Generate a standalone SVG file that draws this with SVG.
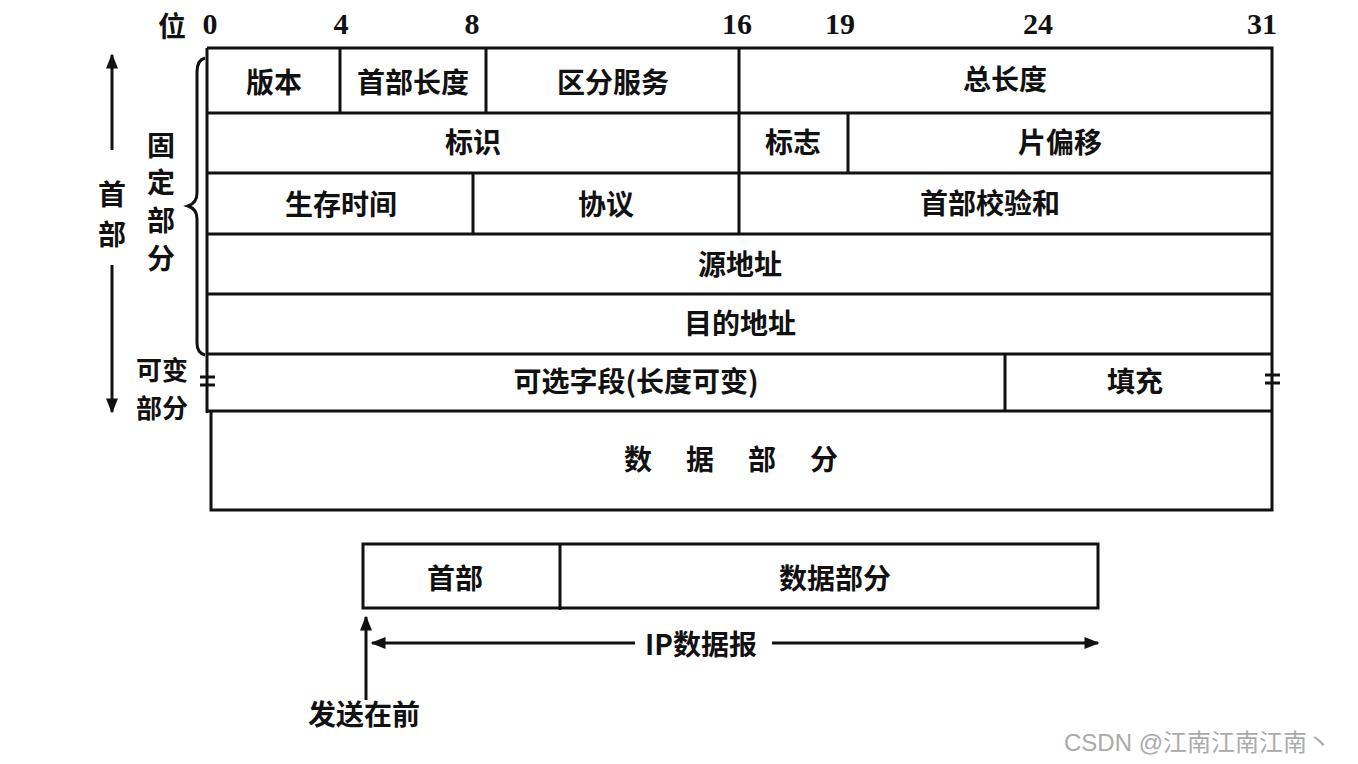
<svg xmlns="http://www.w3.org/2000/svg" width="1358" height="764" viewBox="0 0 1358 764">
<style>
.ln{stroke:#111;stroke-width:3;fill:none}
.t{font-family:"Noto Sans CJK SC","Noto Sans",sans-serif;font-weight:bold;font-size:28px;fill:#111;text-anchor:middle}
.s{font-size:26px}
.n{font-family:"Liberation Serif",serif;font-weight:bold;font-size:30px;fill:#111;text-anchor:middle}
.wm{font-family:"Liberation Sans","Noto Sans CJK SC",sans-serif;font-size:24px;fill:#aaa}
</style>
<defs>
<marker id="ah" viewBox="0 0 10 10" refX="9" refY="5" markerWidth="6" markerHeight="5" orient="auto" markerUnits="strokeWidth">
<path d="M0,1 L10,5 L0,9 Z" fill="#111"/>
</marker>
</defs>
<rect width="1358" height="764" fill="#fff"/>
<g id="bits">
<text class="t" x="172" y="37">位</text>
<text class="n" x="210" y="34">0</text>
<text class="n" x="341" y="34">4</text>
<text class="n" x="472" y="34">8</text>
<text class="n" x="737" y="34">16</text>
<text class="n" x="840" y="34">19</text>
<text class="n" x="1038" y="34">24</text>
<text class="n" x="1262" y="34">31</text>
</g>
<g id="header">
<path class="ln" d="M207,48 H1272 V411 M207,48 V413 M207,113 H1272 M207,173 H1272 M207,234 H1272 M207,294 H1272 M207,354 H1272 M207,411 H1272 M340,48 V113 M486,48 V113 M739,48 V234 M848,113 V173 M473,173 V234 M1005,354 V411"/>
<text class="t" x="274" y="93">版本</text>
<text class="t" x="413" y="93">首部长度</text>
<text class="t" x="613" y="93">区分服务</text>
<text class="t" x="1005" y="90">总长度</text>
<text class="t" x="473" y="153">标识</text>
<text class="t" x="793" y="153">标志</text>
<text class="t" x="1060" y="153">片偏移</text>
<text class="t" x="341" y="215">生存时间</text>
<text class="t" x="606" y="215">协议</text>
<text class="t" x="990" y="214">首部校验和</text>
<text class="t" x="740" y="275">源地址</text>
<text class="t" x="740" y="334">目的地址</text>
<text class="t" x="636" y="392">可选字段(长度可变)</text>
<text class="t" x="1135" y="392">填充</text>
</g>
<g id="data">
<path class="ln" d="M211,411 V510 H1272 V411"/>
<text class="t" x="748" y="470" style="letter-spacing:34px">数据部分</text>
</g>
<g id="labels">
<text class="t" x="112" y="205">首</text>
<text class="t" x="112" y="245">部</text>
<text class="t" x="161" y="156">固</text>
<text class="t" x="161" y="193">定</text>
<text class="t" x="161" y="231">部</text>
<text class="t" x="161" y="269">分</text>
<text class="t s" x="162" y="380">可变</text>
<text class="t s" x="162" y="418">部分</text>
<path class="ln" d="M205,58 Q197,60 197,72 V193 Q197,203 188,206 Q197,209 197,219 V343 Q197,353 205,355" stroke-width="2.5"/>
<path class="ln" d="M200,377 H215 M200,385 H215 M1265,375 H1280 M1265,383 H1280" stroke-width="2.5"/>
</g>
<g id="datagram">
<path class="ln" d="M363,544 H1098 V608 H363 Z M560,544 V610"/>
<text class="t" x="455" y="589">首部</text>
<text class="t" x="835" y="589">数据部分</text>
<text class="t" x="701" y="655">IP数据报</text>
<text class="t" x="364" y="725">发送在前</text>
</g>
<g id="connectors">
<path class="ln" d="M112,150 V55" marker-end="url(#ah)"/>
<path class="ln" d="M112,265 V412" marker-end="url(#ah)"/>
<path class="ln" d="M635,643 H372" marker-end="url(#ah)"/>
<path class="ln" d="M772,643 H1098" marker-end="url(#ah)"/>
<path class="ln" d="M366,700 V617" marker-end="url(#ah)"/>
</g>
<text class="wm" x="1064" y="751">CSDN @江南江南江南丶</text>
</svg>
